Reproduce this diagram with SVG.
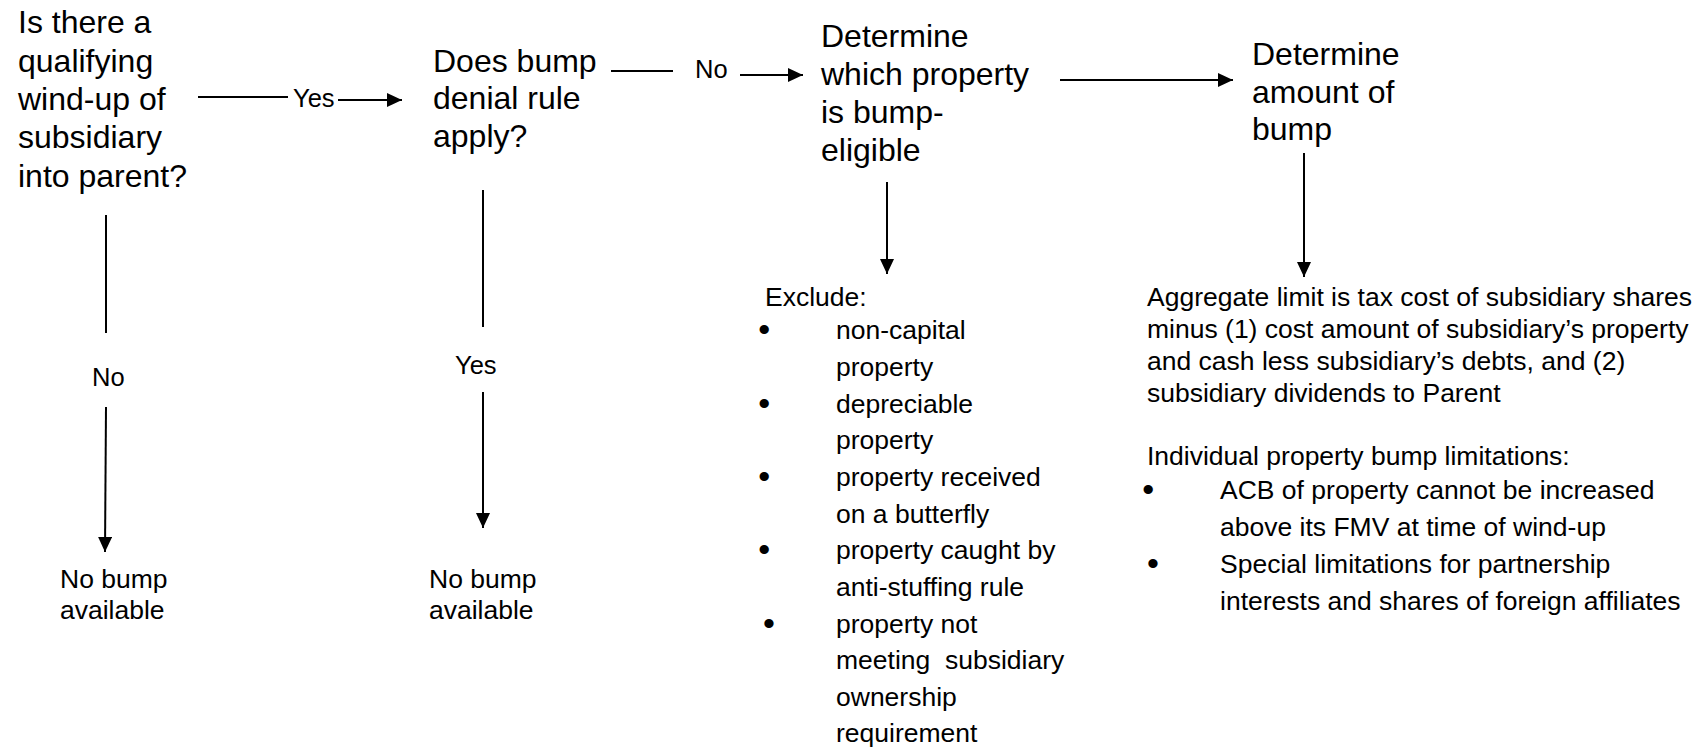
<svg xmlns="http://www.w3.org/2000/svg" width="1702" height="750" viewBox="0 0 1702 750">
  <style>
    .title { font-family: "Liberation Sans", Arial, sans-serif; font-size: 32px; fill: #000; }
    .body { font-family: "Liberation Sans", Arial, sans-serif; font-size: 26.5px; fill: #000; }
    .bullet { font-family: "Liberation Sans", Arial, sans-serif; font-size: 34px; fill: #000; text-anchor: middle; }
    .label { font-family: "Liberation Sans", Arial, sans-serif; font-size: 25.5px; fill: #000; }
    .wire { stroke: #000; stroke-width: 2; fill: none; }
  </style>
  <defs>
    <marker id="head" markerUnits="userSpaceOnUse" markerWidth="15" markerHeight="14" refX="15" refY="7" orient="auto">
      <path d="M0,0 L15,7 L0,14 Z" fill="#000"/>
    </marker>
  </defs>
  <rect x="0" y="0" width="1702" height="750" fill="#fff"/>

  <!-- connectors and their labels -->
  <g id="connectors">
    <line class="wire" x1="198" y1="97" x2="288" y2="97"/>
    <text class="label" x="293" y="107">Yes</text>
    <line class="wire" x1="338" y1="100" x2="402" y2="100" marker-end="url(#head)"/>

    <line class="wire" x1="611" y1="71" x2="673" y2="71"/>
    <text class="label" x="695" y="78">No</text>
    <line class="wire" x1="740" y1="75" x2="803" y2="75" marker-end="url(#head)"/>

    <line class="wire" x1="1060" y1="80" x2="1233" y2="80" marker-end="url(#head)"/>

    <line class="wire" x1="106" y1="215" x2="106" y2="333"/>
    <text class="label" x="92" y="386">No</text>
    <line class="wire" x1="106" y1="407" x2="105" y2="552" marker-end="url(#head)"/>

    <line class="wire" x1="483" y1="190" x2="483" y2="327"/>
    <text class="label" x="455" y="374">Yes</text>
    <line class="wire" x1="483" y1="392" x2="483" y2="528" marker-end="url(#head)"/>

    <line class="wire" x1="887" y1="182" x2="887" y2="274" marker-end="url(#head)"/>
    <line class="wire" x1="1304" y1="153" x2="1304" y2="277" marker-end="url(#head)"/>
  </g>

  <g id="q-windup">
    <text class="title">
      <tspan x="18" y="33">Is there a</tspan>
      <tspan x="18" y="72">qualifying</tspan>
      <tspan x="18" y="110">wind-up of</tspan>
      <tspan x="18" y="148">subsidiary</tspan>
      <tspan x="18" y="187">into parent?</tspan>
    </text>
  </g>

  <g id="q-denial">
    <text class="title">
      <tspan x="433" y="72">Does bump</tspan>
      <tspan x="433" y="109">denial rule</tspan>
      <tspan x="433" y="147">apply?</tspan>
    </text>
  </g>

  <g id="eligible">
    <text class="title">
      <tspan x="821" y="47">Determine</tspan>
      <tspan x="821" y="85">which property</tspan>
      <tspan x="821" y="123">is bump-</tspan>
      <tspan x="821" y="161">eligible</tspan>
    </text>
  </g>

  <g id="amount">
    <text class="title">
      <tspan x="1252" y="65">Determine</tspan>
      <tspan x="1252" y="103">amount of</tspan>
      <tspan x="1252" y="140">bump</tspan>
    </text>
  </g>

  <g id="no-bump-1">
    <text class="body">
      <tspan x="60" y="588">No bump</tspan>
      <tspan x="60" y="619">available</tspan>
    </text>
  </g>

  <g id="no-bump-2">
    <text class="body">
      <tspan x="429" y="588">No bump</tspan>
      <tspan x="429" y="619">available</tspan>
    </text>
  </g>

  <g id="exclusions">
    <text class="body" x="765" y="306">Exclude:</text>
    <text class="bullet">
      <tspan x="769" y="341">•</tspan>
      <tspan x="769" y="415">•</tspan>
      <tspan x="769" y="488">•</tspan>
      <tspan x="769" y="561">•</tspan>
      <tspan x="769" y="635">•</tspan>
    </text>
    <text class="body">
      <tspan x="836" y="339">non-capital</tspan>
      <tspan x="836" y="376">property</tspan>
      <tspan x="836" y="413">depreciable</tspan>
      <tspan x="836" y="449">property</tspan>
      <tspan x="836" y="486">property received</tspan>
      <tspan x="836" y="523">on a butterfly</tspan>
      <tspan x="836" y="559">property caught by</tspan>
      <tspan x="836" y="596">anti-stuffing rule</tspan>
      <tspan x="836" y="633">property not</tspan>
      <tspan x="836" y="669" xml:space="preserve">meeting  subsidiary</tspan>
      <tspan x="836" y="706">ownership</tspan>
      <tspan x="836" y="742">requirement</tspan>
    </text>
  </g>

  <g id="limits">
    <text class="body">
      <tspan x="1147" y="306">Aggregate limit is tax cost of subsidiary shares</tspan>
      <tspan x="1147" y="338">minus (1) cost amount of subsidiary’s property</tspan>
      <tspan x="1147" y="370">and cash less subsidiary’s debts, and (2)</tspan>
      <tspan x="1147" y="402">subsidiary dividends to Parent</tspan>
      <tspan x="1147" y="465">Individual property bump limitations:</tspan>
    </text>
    <text class="bullet">
      <tspan x="1153" y="501">•</tspan>
      <tspan x="1153" y="575">•</tspan>
    </text>
    <text class="body">
      <tspan x="1220" y="499">ACB of property cannot be increased</tspan>
      <tspan x="1220" y="536">above its FMV at time of wind-up</tspan>
      <tspan x="1220" y="573">Special limitations for partnership</tspan>
      <tspan x="1220" y="610">interests and shares of foreign affiliates</tspan>
    </text>
  </g>
</svg>
